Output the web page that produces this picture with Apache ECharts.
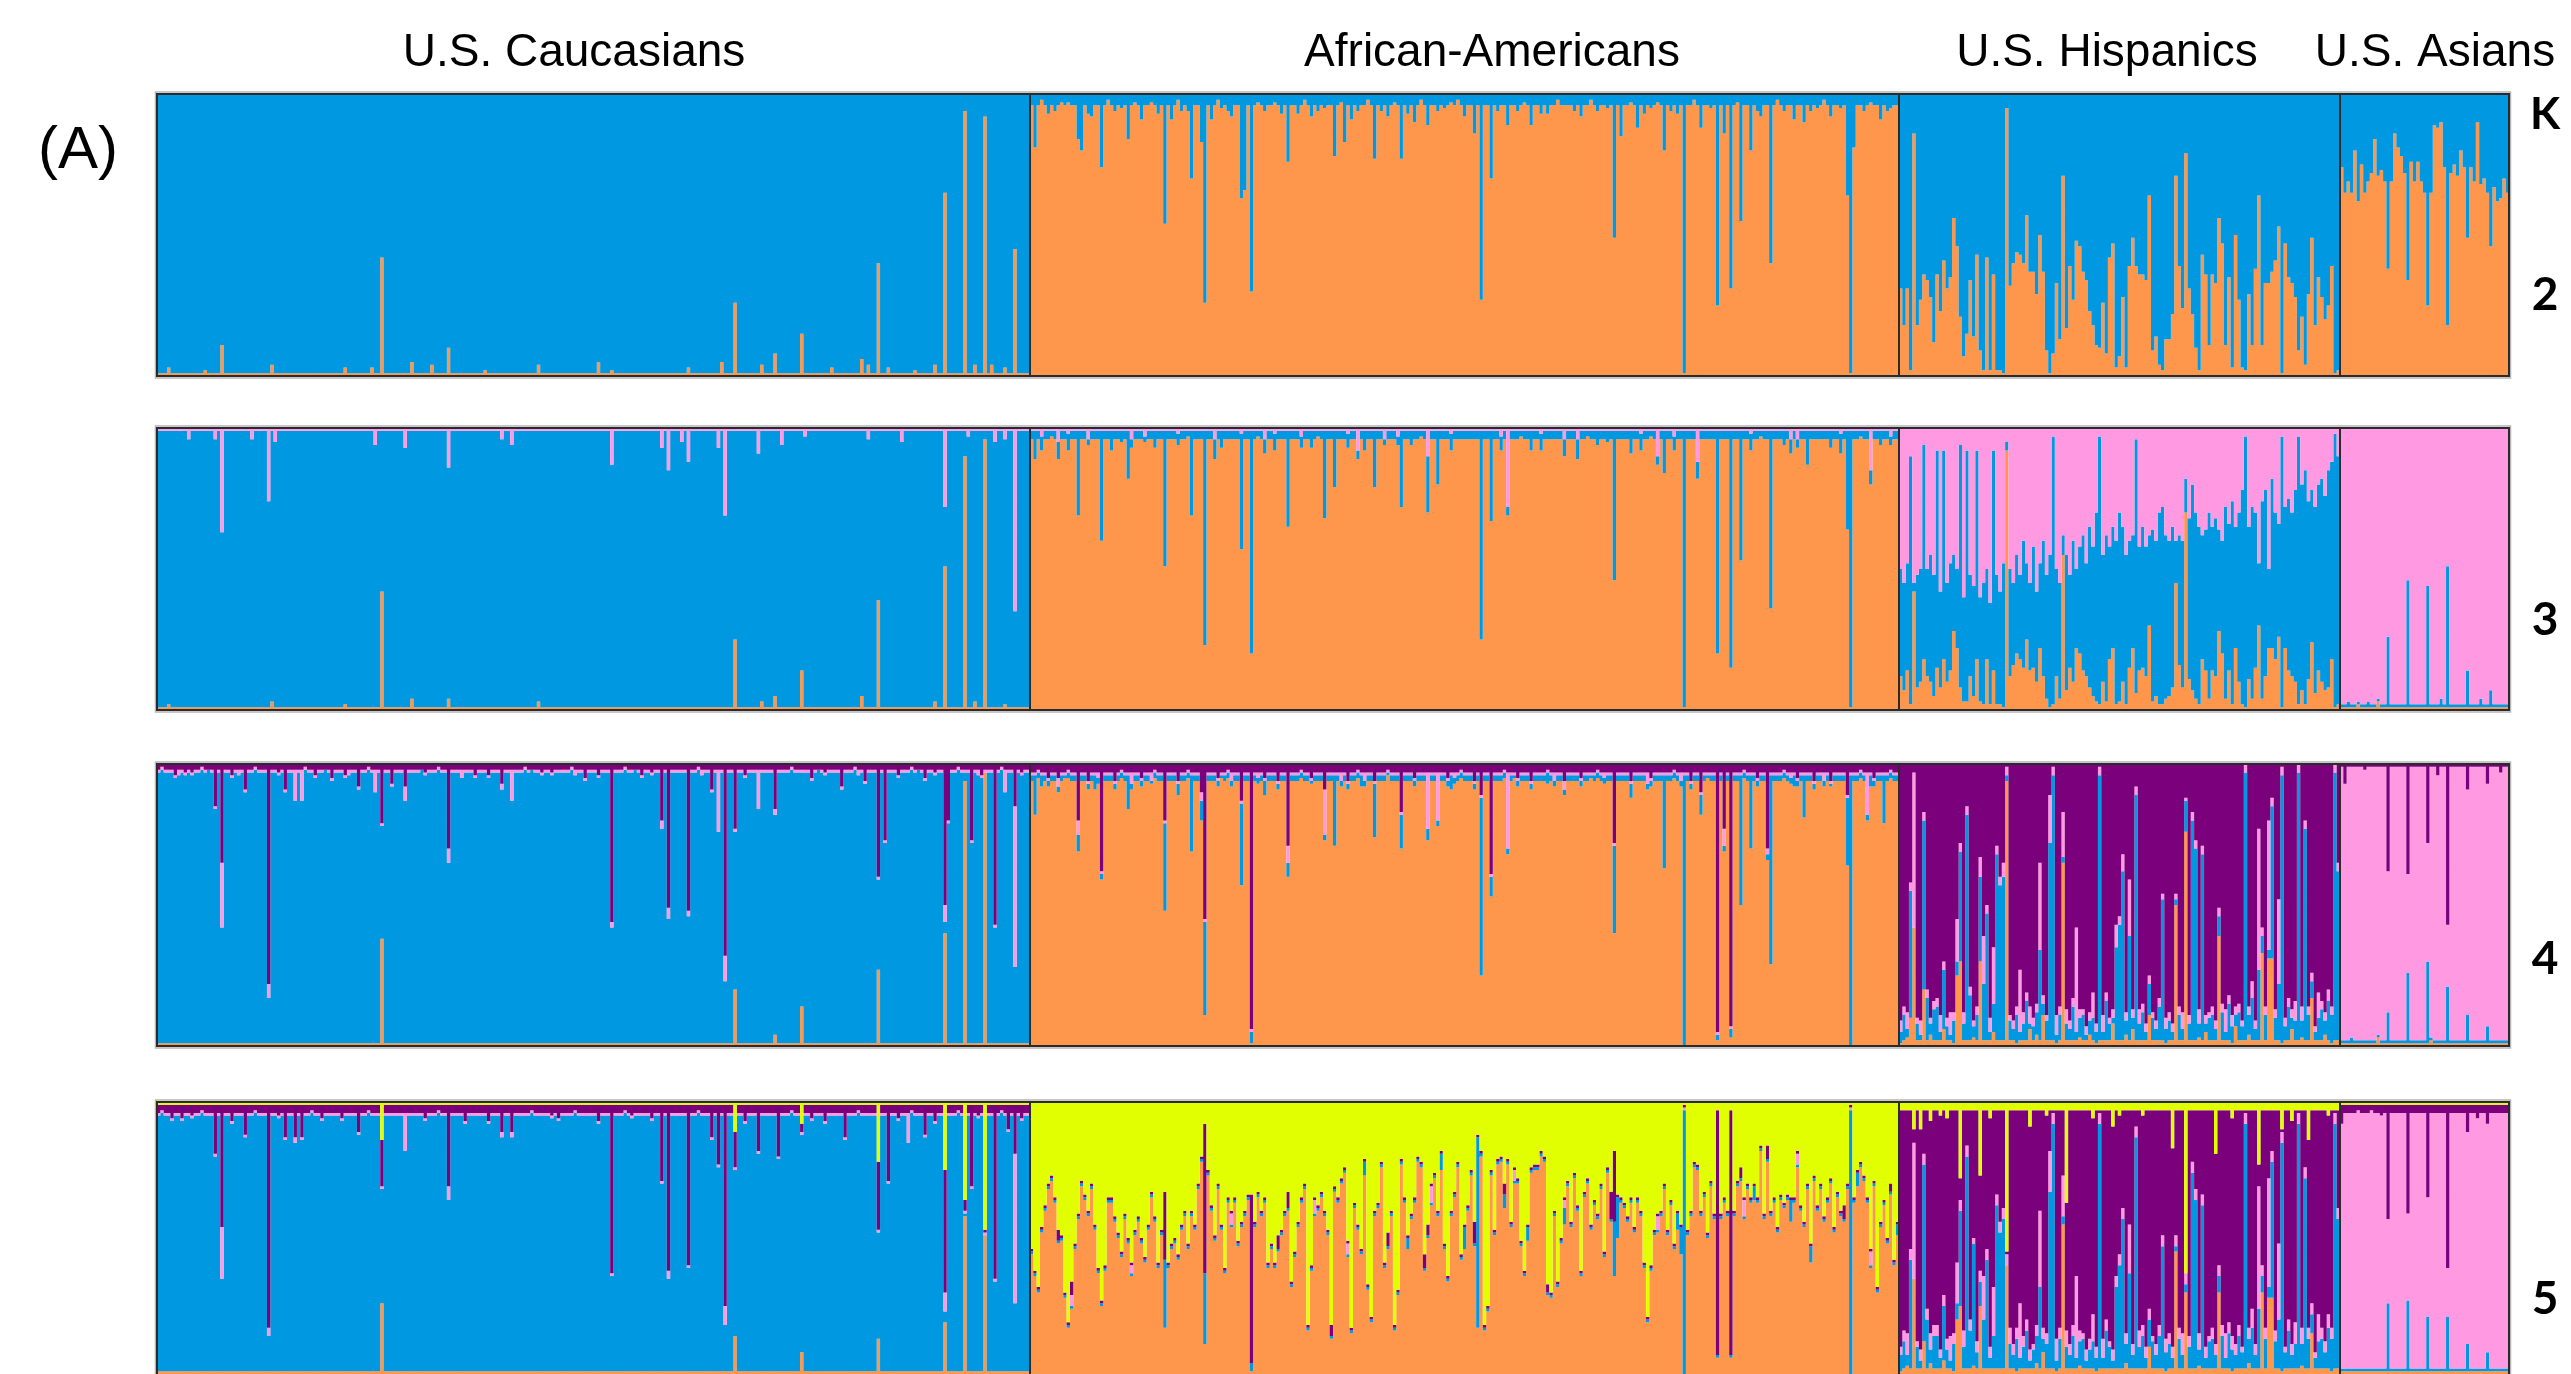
<!DOCTYPE html>
<html>
<head>
<meta charset="utf-8">
<title>STRUCTURE ancestry K=2..5</title>
<script src="https://cdn.jsdelivr.net/npm/echarts@6/dist/echarts.min.js"></script>
<style>
  html, body { margin: 0; padding: 0; background: #fff; }
  #chart { width: 2571px; height: 1374px; }
</style>
</head>
<body>
<div id="chart"></div>
<script>
// populations, left to right
const populations = ['U.S. Caucasians', 'African-Americans', 'U.S. Hispanics', 'U.S. Asians'];
const popSizes = [262, 261, 133, 51];
const kValues = [2, 3, 4, 5];
// cluster stacking order, bottom to top
const clusterOrder = ['orange', 'blue', 'pink', 'purple', 'yellow'];
const clusterColors = { orange: '#FE974C', blue: '#0098E0', pink: '#FF99E2', purple: '#7B007C', yellow: '#E1FF00' };

// most individuals sit at a base share, listed [index, percent] pairs differ from it
function spikes(n, base, list) {
  const a = new Array(n).fill(base);
  list.forEach(([i, v]) => { a[i] = v; });
  return a;
}

// ---------- U.S. Caucasians (blue is the remainder) ----------
const k2CauOrangeSpikes = [[3,3],[14,2],[19,11],[34,4],[56,3],[64,3],[67,42],[76,5],[82,4],[87,10],[98,2],[114,4],[132,5],[136,2],[159,3],[169,5],[173,26],[181,4],[185,8],[193,15],[202,3],[211,6],[213,4],[216,40],[219,3],[227,2],[233,4],[236,65],[242,94],[245,4],[248,92],[250,4],[254,3],[257,45]];
const k3CauOrangeSpikes = [[3,2],[34,3],[56,2],[67,42],[76,4],[87,4],[114,3],[173,25],[181,3],[185,5],[193,14],[211,5],[216,39],[233,3],[236,51],[242,90],[245,3],[248,96],[254,2]];
const k3CauPinkSpikes = [[9,4],[17,4],[19,37],[28,4],[33,26],[35,5],[65,6],[74,7],[87,14],[103,4],[106,6],[136,13],[151,7],[153,15],[157,5],[159,12],[168,7],[170,31],[180,9],[187,6],[194,3],[213,4],[223,5],[236,28],[243,3],[251,5],[254,4],[257,65]];
const k4CauOrangeSpikes = [[67,38],[173,20],[185,4],[193,14],[216,27],[236,40],[242,94],[248,97]];
const k4CauPinkSpikes = [[6,2],[15,0],[19,23],[24,2],[33,5],[41,11],[43,11],[50,0],[57,2],[65,8],[74,5],[79,0],[87,5],[91,3],[103,2],[106,11],[112,0],[125,2],[136,2],[143,0],[151,3],[153,4],[159,2],[163,2],[168,22],[170,9],[180,14],[185,2],[198,0],[210,2],[228,0],[236,6],[246,2],[254,8],[257,57]];
const k4CauPurpleSpikes = [[1,1],[5,4],[8,3],[10,3],[13,1],[17,15],[19,35],[22,4],[26,9],[29,1],[33,78],[36,3],[38,9],[44,1],[47,4],[52,5],[56,4],[60,8],[63,1],[67,21],[70,7],[74,8],[80,3],[84,1],[87,30],[95,4],[99,4],[103,7],[110,1],[115,3],[118,3],[124,1],[128,5],[132,4],[136,56],[140,1],[145,4],[148,3],[151,20],[153,51],[159,52],[162,1],[166,9],[170,68],[173,23],[176,4],[185,16],[190,1],[196,5],[200,3],[205,8],[209,1],[212,6],[216,40],[218,27],[222,4],[226,1],[230,5],[233,3],[236,50],[237,20],[240,1],[244,27],[247,4],[251,57],[253,1],[257,15],[259,3]];
const k5CauOrangeSpikes = [[67,26],[173,14],[193,8],[216,13],[236,19],[242,58],[248,51]];
const k5CauPinkSpikes = [[19,19],[33,3],[41,2],[74,14],[87,5],[103,2],[106,2],[153,3],[170,7],[225,11],[236,7],[257,55]];
const k5CauPurpleSpikes = [[1,2],[4,5],[7,5],[10,4],[13,2],[17,18],[19,45],[22,6],[26,11],[29,2],[33,82],[36,4],[38,12],[41,12],[43,12],[46,2],[49,5],[55,5],[60,10],[63,2],[67,17],[80,5],[84,2],[87,30],[92,6],[99,6],[103,10],[106,10],[112,2],[118,4],[120,5],[125,2],[132,6],[136,62],[140,2],[142,4],[148,5],[151,28],[153,61],[159,59],[162,2],[166,12],[168,22],[170,74],[173,13],[176,6],[180,17],[186,19],[190,2],[196,5],[200,6],[206,12],[210,2],[216,25],[219,28],[222,5],[226,2],[230,11],[233,6],[236,45],[240,2],[242,4],[244,30],[246,4],[248,1],[251,64],[253,2],[255,9],[257,18],[259,5]];
const k5CauYellowSpikes = [[67,14],[173,11],[193,8],[216,22],[236,25],[242,36],[248,47]];

// ---------- African-Americans (orange is the remainder) ----------
const k2AaBlueSpikes = [[1,19],[3,2],[5,7],[7,6],[9,3],[11,3],[14,16],[15,20],[17,7],[18,8],[21,26],[23,2],[25,6],[27,5],[29,16],[31,3],[33,9],[36,3],[38,7],[40,46],[42,9],[44,2],[45,6],[47,6],[48,30],[51,17],[52,74],[54,9],[56,2],[57,5],[59,6],[60,8],[63,37],[64,34],[66,70],[68,3],[70,6],[73,3],[75,7],[77,24],[80,7],[82,2],[84,8],[86,6],[88,5],[91,22],[93,3],[94,17],[96,9],[98,6],[101,2],[103,23],[105,6],[107,8],[109,3],[111,23],[113,7],[115,10],[117,2],[119,11],[122,6],[124,5],[126,3],[128,2],[130,8],[133,14],[135,73],[138,30],[140,6],[143,11],[146,6],[148,3],[150,11],[153,7],[155,7],[158,2],[160,4],[163,6],[165,8],[168,2],[170,6],[173,5],[175,51],[177,15],[180,3],[182,12],[184,7],[186,5],[188,3],[190,20],[192,6],[194,7],[196,99],[199,2],[201,12],[204,5],[206,75],[208,14],[210,69],[212,3],[213,45],[216,20],[218,6],[219,8],[222,60],[224,2],[226,6],[229,9],[232,10],[234,6],[236,5],[238,2],[240,8],[243,5],[245,36],[246,99],[247,19],[250,6],[252,3],[255,9],[257,6],[258,5]];
const k3AaBlueSpikes = [[1,10],[3,5],[6,2],[8,6],[11,6],[14,30],[17,2],[21,39],[24,7],[27,4],[29,17],[34,2],[37,6],[40,48],[44,4],[47,2],[48,30],[52,76],[55,7],[57,6],[59,3],[63,41],[66,79],[68,2],[70,5],[73,6],[77,34],[81,4],[84,6],[86,2],[88,31],[91,20],[95,5],[100,7],[103,20],[106,2],[111,27],[114,5],[117,2],[119,20],[122,19],[126,6],[129,3],[135,74],[138,32],[141,5],[147,2],[150,7],[153,6],[157,3],[160,6],[164,7],[167,2],[170,5],[173,4],[175,53],[180,8],[183,6],[186,2],[190,15],[193,5],[196,98],[200,6],[203,3],[206,79],[210,84],[213,46],[216,6],[219,2],[222,63],[226,5],[228,5],[233,12],[236,3],[240,6],[243,7],[245,35],[246,98],[249,2],[252,5],[255,5],[258,3]];
const k3AaPinkSpikes = [[3,3],[8,5],[11,2],[17,4],[30,4],[34,3],[44,2],[55,4],[63,2],[70,4],[73,2],[81,3],[95,2],[98,8],[106,4],[110,3],[119,10],[126,2],[141,3],[143,28],[153,2],[160,4],[164,4],[183,2],[188,10],[193,3],[200,12],[216,2],[228,4],[230,4],[243,2],[252,15],[258,3]];
const k4AaBlueSpikes = [[1,14],[3,4],[10,1],[14,6],[19,5],[29,12],[36,1],[40,31],[44,4],[48,27],[51,7],[52,33],[57,1],[63,29],[66,4],[70,5],[77,5],[84,1],[91,25],[99,4],[103,19],[107,1],[111,12],[119,4],[126,5],[135,63],[138,7],[145,1],[155,4],[168,1],[175,31],[180,5],[190,33],[196,96],[201,7],[203,1],[210,3],[213,46],[216,26],[222,67],[229,4],[232,15],[240,1],[245,24],[246,96],[252,4],[256,17]];
const k4AaPinkSpikes = [[8,3],[14,5],[20,2],[30,4],[36,3],[51,3],[60,3],[68,2],[77,6],[88,16],[93,3],[100,3],[119,20],[122,17],[127,2],[143,27],[157,3],[160,3],[172,2],[185,4],[195,3],[208,6],[221,2],[228,2],[238,3],[251,15]];
const k4AaPurpleSpikes = [[2,2],[5,5],[8,5],[11,2],[14,20],[17,6],[21,38],[25,6],[27,2],[33,5],[37,2],[40,20],[44,6],[47,2],[51,10],[52,55],[56,5],[59,2],[63,13],[66,94],[70,5],[74,6],[77,29],[81,2],[84,5],[88,9],[95,6],[98,2],[103,6],[107,2],[111,17],[115,5],[125,5],[129,2],[133,6],[135,11],[138,39],[142,2],[146,5],[150,6],[155,2],[160,6],[165,5],[170,2],[175,28],[180,6],[186,5],[193,2],[198,6],[201,10],[206,95],[208,23],[210,93],[214,2],[218,5],[221,30],[226,2],[230,5],[235,6],[240,6],[245,11],[249,2],[253,5],[258,2]];
const k5AaYellow = [
  54,62,68,46,38,30,27,35,47,49, 70,81,66,52,41,29,34,40,30,45,
  61,73,60,35,35,42,48,55,41,50, 59,47,42,50,57,45,33,42,59,47,
  33,59,52,50,56,45,40,52,40,45, 30,20,8,25,38,49,30,45,61,35,
  40,35,51,44,40,34,34,44,33,40, 35,59,52,59,49,47,40,33,66,55,
  44,35,30,82,60,35,38,33,40,47, 82,31,35,28,24,51,83,37,45,54,
  21,67,79,40,37,22,59,48,40,82, 69,21,35,49,41,35,20,22,56,45,
  30,26,40,18,52,64,40,33,22,56, 45,38,25,44,12,18,82,75,25,47,
  21,20,30,21,44,24,28,51,62,45, 24,23,23,18,20,67,70,40,66,50,
  35,29,44,26,38,62,33,28,45,36, 41,30,55,24,33,18,34,35,37,42,
  35,46,35,40,59,79,60,47,41,40, 30,47,36,52,40,45,1,47,40,22,
  23,40,33,48,29,41,3,41,35,40, 3,40,29,24,35,30,35,30,35,16,
  41,16,40,35,46,34,37,34,35,35, 18,38,44,30,52,27,38,30,42,35,
  28,46,33,40,38,30,1,35,25,22, 27,35,54,29,68,44,36,50,30,58,
  44
];
const k5AaBlueSpikes = [[40,25],[52,26],[66,3],[100,5],[113,4],[123,6],[130,8],[134,70],[142,5],[149,5],[160,6],[175,20],[176,15],[194,6],[195,10],[196,97],[217,5],[228,8],[234,6],[246,97],[248,5],[260,4]];
const k5AaPinkSpikes = [[12,4],[30,3],[60,4],[85,5],[95,4],[120,6],[145,4],[160,3],[188,5],[196,1],[214,6],[230,4],[246,1],[252,5]];
const k5AaPurpleSpikes = [[8,4],[12,5],[40,25],[52,55],[66,62],[74,5],[77,6],[90,4],[107,5],[118,5],[119,4],[133,8],[142,4],[155,3],[174,10],[175,26],[206,90],[210,90],[213,4],[221,5],[244,5],[258,3]];

// ---------- U.S. Hispanics ----------
const k2HisOrange = [
  31,18,31,2,86,18,27,36,34,28, 12,36,23,41,31,35,56,46,21,7,
  15,34,14,43,9,2,42,2,36,2, 2,1,95,32,40,44,43,40,57,37,
  37,29,50,37,9,1,8,33,13,71, 17,39,27,48,46,37,34,23,18,11,
  10,26,8,42,47,3,7,28,3,39, 49,39,36,36,34,64,9,14,4,2,
  13,13,22,71,39,24,79,31,22,10, 2,43,36,11,36,33,56,47,11,35,
  3,50,27,3,2,29,11,38,64,11, 33,33,37,41,53,1,47,35,33,28,
  9,21,4,29,49,18,35,28,20,25, 39,1,2
];
const k3HisOrange = [
  12,7,14,2,42,8,10,18,12,10, 5,15,8,18,10,14,28,22,8,3,
  3,12,5,18,3,2,18,2,14,2, 2,1,92,12,16,20,18,15,25,14,
  15,10,22,12,4,1,2,12,4,55, 7,15,10,22,20,14,12,8,5,3,
  2,10,3,18,22,2,3,10,2,15, 22,6,14,15,12,30,3,5,2,2,
  4,5,8,45,16,8,70,11,7,4, 2,18,14,4,14,12,28,20,4,14,
  2,22,10,2,1,11,4,15,30,4, 12,22,22,18,26,1,22,14,12,10,
  2,7,2,11,24,6,14,10,7,8, 18,1,2
];
const k3HisBlue = [
  38,38,38,88,3,40,40,76,38,45, 43,77,34,74,35,38,27,28,86,37,
  89,36,39,74,37,43,32,36,78,46, 40,51,3,38,29,35,30,45,27,31,
  43,32,30,48,44,54,95,38,41,7, 48,33,50,28,38,48,40,57,53,67,
  95,45,59,40,43,58,67,55,53,45, 40,90,44,50,46,32,61,55,68,70,
  58,55,57,15,46,52,12,57,73,66, 63,44,50,66,51,56,36,40,68,52,
  72,43,60,76,96,54,68,55,22,70, 66,28,60,52,40,96,50,61,58,68,
  95,73,83,63,54,66,66,72,69,77, 70,97,88
];
const k4HisOrangeSpikes = [[0,1],[2,3],[3,10],[4,42],[7,20],[9,4],[13,6],[16,1],[17,25],[18,30],[22,3],[24,30],[28,5],[32,94],[35,1],[39,6],[41,4],[43,11],[47,1],[49,65],[54,3],[57,4],[59,1],[64,8],[68,4],[70,6],[75,11],[80,1],[83,50],[86,76],[90,3],[92,5],[96,39],[100,1],[101,7],[105,4],[109,33],[111,31],[112,31],[115,1],[118,6],[121,3],[124,17],[128,4],[130,1]];
const k4HisBlue = [
  4,9,3,45,0,6,2,60,15,4, 11,12,3,21,5,2,8,5,39,6,
  80,16,4,9,30,20,45,3,10,66, 55,58,2,7,4,10,3,6,14,2,
  5,8,32,4,7,70,94,3,9,2, 6,4,12,3,7,9,2,5,8,4,
  94,3,14,6,2,33,41,60,5,37, 4,87,6,10,3,11,8,4,12,50,
  5,7,3,2,9,4,11,6,78,68, 5,66,3,8,9,4,7,10,3,13,
  6,4,10,5,95,7,15,4,25,6, 9,3,54,8,20,95,5,12,4,7,
  95,6,75,9,6,3,8,11,5,14, 10,95,60
];
const k4HisPinkSpikes = [[0,4],[2,6],[3,3],[4,55],[5,2],[6,5],[9,2],[12,6],[15,8],[17,15],[19,4],[22,2],[24,7],[25,17],[27,5],[28,20],[29,3],[31,5],[33,2],[36,22],[37,4],[39,6],[40,3],[42,31],[44,2],[45,17],[47,7],[49,16],[50,5],[53,37],[55,2],[58,9],[61,6],[63,2],[65,8],[67,6],[69,20],[72,5],[76,2],[79,2],[80,4],[83,2],[85,6],[86,1],[90,5],[93,2],[98,8],[100,4],[103,2],[106,6],[108,50],[111,46],[114,30],[116,3],[119,7],[121,5],[125,2],[126,9],[129,4]];
const k5HisYellowSpikes = [[4,10],[6,10],[9,7],[12,5],[14,6],[18,28],[24,27],[27,6],[32,55],[39,9],[44,5],[50,37],[58,6],[64,9],[66,5],[73,5],[82,17],[86,63],[95,19],[100,6],[108,23],[115,10],[118,7],[123,14],[129,5]];
const k5HisOrangeSpikes = [[0,1],[2,3],[4,35],[7,12],[9,4],[13,5],[16,1],[17,20],[18,25],[22,3],[24,25],[32,40],[35,1],[41,4],[43,8],[47,1],[49,55],[54,3],[59,1],[68,4],[75,10],[80,1],[83,45],[86,30],[90,3],[96,30],[100,1],[105,4],[109,30],[111,28],[112,28],[115,1],[121,3],[124,15],[130,1]];
const k5HisBlue = [
  6,10,4,40,0,8,3,65,18,5, 12,12,4,20,7,3,10,6,35,8,
  78,14,45,6,9,18,40,4,12,60, 50,55,0,9,5,12,4,8,14,3,
  7,10,30,5,9,65,90,4,11,3, 8,5,12,4,9,11,3,7,10,5,
  90,4,14,8,3,30,38,55,7,35, 5,85,8,12,4,10,10,5,12,45,
  7,9,4,2,11,5,3,8,72,62, 6,60,4,10,11,5,6,12,4,13,
  8,5,12,6,90,9,15,5,22,6, 11,4,50,10,18,84,6,14,5,9,
  90,8,70,11,7,4,10,11,6,15, 12,90,55
];
const k5HisPinkSpikes = [[0,3],[2,8],[4,50],[5,2],[9,6],[12,3],[15,9],[17,15],[19,6],[22,2],[25,16],[28,18],[33,6],[36,20],[40,2],[42,28],[45,15],[47,8],[49,15],[50,6],[53,30],[55,2],[58,10],[61,7],[63,2],[69,18],[72,6],[76,2],[80,5],[85,8],[90,6],[93,2],[98,9],[100,5],[103,2],[106,7],[108,45],[111,40],[114,28],[116,2],[119,8],[121,6],[125,2],[126,10],[129,5]];

// ---------- U.S. Asians ----------
const k2AsiOrange = [
  74,65,69,65,80,62,75,65,69,72, 84,71,73,69,38,69,86,81,78,72,
  34,76,69,76,69,65,25,65,89,88, 90,74,18,72,75,71,80,74,49,74,
  69,90,68,70,65,46,67,62,63,70, 65
];
const k3AsiOrangeSpikes = [[5,2],[11,3]];
const k3AsiBlueSpikes = [[2,2],[8,2],[14,25],[20,45],[26,43],[30,3],[32,50],[38,13],[42,3],[45,6]];
const k4AsiOrangeSpikes = [[11,3],[27,2]];
const k4AsiBlueSpikes = [[3,2],[14,11],[20,25],[26,29],[32,20],[38,10],[44,6]];
const k4AsiPurpleSpikes = [[1,7],[7,2],[14,38],[20,39],[26,28],[29,4],[32,57],[38,9],[44,7],[48,3]];
const k5AsiBlueSpikes = [[14,25],[20,26],[26,20],[32,20],[38,10],[44,7]];
const k5AsiPurpleSpikes = [[0,7],[5,2],[9,2],[12,4],[14,42],[20,40],[26,34],[32,60],[38,10],[41,5],[44,7]];

// per K row, per population: the listed clusters; the missing one fills to 100 %
const [nC, nA, nH, nS] = popSizes;
const rows = {
  2: [
    { orange: spikes(nC, 1, k2CauOrangeSpikes) },
    { blue: spikes(nA, 4, k2AaBlueSpikes) },
    { orange: k2HisOrange },
    { orange: k2AsiOrange }
  ],
  3: [
    { orange: spikes(nC, 1, k3CauOrangeSpikes), pink: spikes(nC, 1, k3CauPinkSpikes) },
    { blue: spikes(nA, 3, k3AaBlueSpikes), pink: spikes(nA, 1, k3AaPinkSpikes) },
    { orange: k3HisOrange, blue: k3HisBlue },
    { orange: spikes(nS, 1, k3AsiOrangeSpikes), blue: spikes(nS, 1, k3AsiBlueSpikes) }
  ],
  4: [
    { orange: spikes(nC, 1, k4CauOrangeSpikes), pink: spikes(nC, 1, k4CauPinkSpikes), purple: spikes(nC, 2, k4CauPurpleSpikes) },
    { blue: spikes(nA, 2, k4AaBlueSpikes), pink: spikes(nA, 1, k4AaPinkSpikes), purple: spikes(nA, 3, k4AaPurpleSpikes) },
    { orange: spikes(nH, 2, k4HisOrangeSpikes), blue: k4HisBlue, pink: spikes(nH, 3, k4HisPinkSpikes) },
    { orange: spikes(nS, 1, k4AsiOrangeSpikes), blue: spikes(nS, 1, k4AsiBlueSpikes), purple: spikes(nS, 1, k4AsiPurpleSpikes) }
  ],
  5: [
    { orange: spikes(nC, 1, k5CauOrangeSpikes), pink: spikes(nC, 1, k5CauPinkSpikes), purple: spikes(nC, 3, k5CauPurpleSpikes), yellow: spikes(nC, 1, k5CauYellowSpikes) },
    { blue: spikes(nA, 1, k5AaBlueSpikes), pink: spikes(nA, 0, k5AaPinkSpikes), purple: spikes(nA, 1, k5AaPurpleSpikes), yellow: k5AaYellow },
    { orange: spikes(nH, 2, k5HisOrangeSpikes), blue: k5HisBlue, pink: spikes(nH, 4, k5HisPinkSpikes), yellow: spikes(nH, 3, k5HisYellowSpikes) },
    { orange: spikes(nS, 1, []), blue: spikes(nS, 1, k5AsiBlueSpikes), purple: spikes(nS, 3, k5AsiPurpleSpikes), yellow: spikes(nS, 1, []) }
  ]
};

// layout (px)
const popEdges = [157, 1030, 1899, 2340, 2509];
const panelTops = [94, 428, 764, 1102];
const panelH = 282;
const frameColor = '#2b2b2b';

const grids = [], xAxes = [], yAxes = [], series = [];
kValues.forEach((k, p) => {
  const clusters = clusterOrder.slice(0, k);
  rows[k].forEach((given, q) => {
    const gi = grids.length;
    const n = popSizes[q];
    grids.push({ left: popEdges[q], top: panelTops[p], width: popEdges[q + 1] - popEdges[q], height: panelH });
    xAxes.push({ gridIndex: gi, type: 'category', data: Array.from({ length: n }, (_, i) => i), show: false, boundaryGap: true });
    yAxes.push({ gridIndex: gi, type: 'value', min: 0, max: 100, show: false });
    const rest = Array.from({ length: n }, (_, i) =>
      Math.max(0, 100 - Object.values(given).reduce((s, arr) => s + arr[i], 0)));
    clusters.forEach(c => {
      series.push({
        type: 'bar', xAxisIndex: gi, yAxisIndex: gi, stack: 'g' + gi,
        barCategoryGap: '0%', silent: true,
        large: true, largeThreshold: 1,
        data: given[c] || rest,
        itemStyle: { color: clusterColors[c] }
      });
    });
  });
});

const graphics = [];
panelTops.forEach(t => {
  // faint outer edge, then the dark frame and population dividers
  graphics.push({ type: 'rect', z: 99, silent: true,
    shape: { x: popEdges[0] - 1.5, y: t - 2, width: popEdges[4] - popEdges[0] + 3, height: panelH + 4 },
    style: { fill: 'none', stroke: '#b5b5b5', lineWidth: 1.5 } });
  graphics.push({ type: 'rect', z: 100, silent: true,
    shape: { x: popEdges[0], y: t, width: popEdges[4] - popEdges[0], height: panelH },
    style: { fill: 'none', stroke: frameColor, lineWidth: 2 } });
  [1, 2, 3].forEach(j => graphics.push({ type: 'line', z: 100, silent: true,
    shape: { x1: popEdges[j], y1: t, x2: popEdges[j], y2: t + panelH },
    style: { stroke: frameColor, lineWidth: 2 } }));
});
const labelX = [574, 1492, 2107, 2435];
populations.forEach((name, q) => graphics.push({ type: 'text', z: 100, x: labelX[q], y: 53,
  style: { text: name, fill: '#000', font: '46px "Liberation Sans", Arial, sans-serif', textAlign: 'center', textVerticalAlign: 'middle' } }));
graphics.push({ type: 'text', z: 100, x: 78, y: 151,
  style: { text: '(A)', fill: '#000', font: '60px "Liberation Sans", Arial, sans-serif', textAlign: 'center', textVerticalAlign: 'middle' } });
const kLabelY = [295, 620, 959, 1299];
graphics.push({ type: 'text', z: 100, x: 2545, y: 115,
  style: { text: 'K', fill: '#000', font: 'bold 44px Lato, "Open Sans", sans-serif', textAlign: 'center', textVerticalAlign: 'middle' } });
kValues.forEach((k, p) => graphics.push({ type: 'text', z: 100, x: 2545, y: kLabelY[p],
  style: { text: String(k), fill: '#000', font: 'bold 46px Lato, "Open Sans", sans-serif', textAlign: 'center', textVerticalAlign: 'middle' } }));

const chart = echarts.init(document.getElementById('chart'));
chart.setOption({
  animation: false,
  backgroundColor: '#fff',
  grid: grids,
  xAxis: xAxes,
  yAxis: yAxes,
  series: series,
  graphic: graphics
});
</script>
</body>
</html>
